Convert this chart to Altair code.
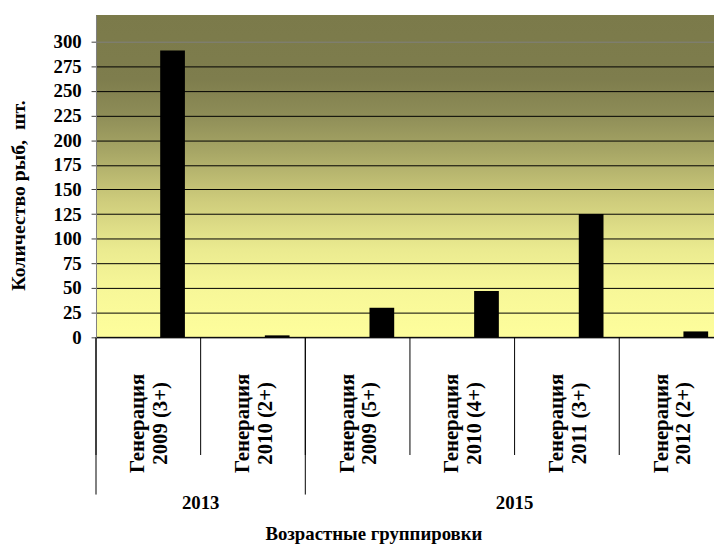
import altair as alt
import pandas as pd

# ---- data ----
years = ["2013", "2013", "2015", "2015", "2015", "2015"]
generations = ["2009 (3+)", "2010 (2+)", "2009 (5+)", "2010 (4+)", "2011 (3+)", "2012 (2+)"]
counts = [291, 2, 30, 47, 125, 6]
y_ticks = [0, 25, 50, 75, 100, 125, 150, 175, 200, 225, 250, 275, 300]
group_years = ["2013", "2015"]
group_first = [0, 2]  # first category of each year group
group_mid = [0, 3]    # category whose right edge is the group centre
x_title = ["Возрастные группировки"]

cats = ["Генерация|" + g for g in generations]
df = pd.DataFrame({"cat": cats, "count": counts, "year": years})
gdf = pd.DataFrame({
    "year": group_years,
    "cat": [cats[i] for i in group_first],
    "mid": [cats[i] for i in group_mid],
})
tdf = pd.DataFrame({"t": x_title})

FONT = "Liberation Serif"
W, H = 625, 326

x_scale = alt.Scale(domain=cats, range=[0, 635], paddingInner=0, paddingOuter=0)
y_scale = alt.Scale(domain=[0, 327], nice=False, zero=True)

gradient = alt.Gradient(
    gradient="linear",
    x1=0, x2=0, y1=0, y2=1,
    stops=[
        alt.GradientStop(color="#7b7a4a", offset=0),
        alt.GradientStop(color="#7e7d4d", offset=0.2),
        alt.GradientStop(color="#8c8b56", offset=0.3),
        alt.GradientStop(color="#a6a565", offset=0.42),
        alt.GradientStop(color="#cfcd7c", offset=0.58),
        alt.GradientStop(color="#ebeb90", offset=0.73),
        alt.GradientStop(color="#f7f798", offset=0.85),
        alt.GradientStop(color="#fefe9c", offset=1),
    ],
)

bg = alt.Chart(pd.DataFrame({"a": [0]})).mark_rect(fill=gradient, strokeWidth=0).encode(
    x=alt.value(0), x2=alt.value(640), y=alt.value(0), y2=alt.value(H)
)

bars = alt.Chart(df).mark_bar(color="black", width=25, xOffset=24.5).encode(
    x=alt.X("cat:N", scale=x_scale, sort=cats, axis=None),
    y=alt.Y(
        "count:Q",
        scale=y_scale,
        axis=alt.Axis(
            values=y_ticks,
            title="Количество рыб,\u00a0 шт.",
            titleFont=FONT, titleFontSize=20, titleFontWeight="bold", titleColor="black",
            titleAngle=270, titleX=-78, titleY=182, titleAlign="center", titleBaseline="middle",
            labelFont=FONT, labelFontSize=19, labelFontWeight="bold", labelColor="black",
            labelPadding=10, tickSize=5, tickColor="#404040",
            domainColor="#808080", domainWidth=1,
            grid=True,
            gridColor={"condition": {"test": "datum.value == 300", "value": "#808080"}, "value": "black"},
            gridWidth=1, gridOpacity=1, zindex=1,
        ),
    ),
)

baseline = alt.Chart(pd.DataFrame({"a": [0]})).mark_rule(color="black", strokeWidth=1).encode(
    x=alt.value(0), x2=alt.value(640), y=alt.value(H)
)

separators = alt.Chart(df).mark_rule(color="black", strokeWidth=1).encode(
    x=alt.X("cat:N", scale=x_scale, sort=cats, bandPosition=0, axis=None),
    y=alt.value(H),
    y2=alt.value(H + 119),
)

cat_labels = alt.Chart(df).mark_text(
    font=FONT, fontSize=21, fontWeight="bold", color="black",
    angle=270, align="center", baseline="middle", lineBreak="|", lineHeight=23,
    xOffset=-10,
).encode(
    x=alt.X("cat:N", scale=x_scale, sort=cats, bandPosition=0.5, axis=None),
    y=alt.value(H + 87),
    text="cat:N",
)

group_lines = alt.Chart(gdf).mark_rule(color="black", strokeWidth=1).encode(
    x=alt.X("cat:N", scale=x_scale, sort=cats, bandPosition=0, axis=None),
    y=alt.value(H),
    y2=alt.value(H + 159),
)

group_text = alt.Chart(gdf).mark_text(
    font=FONT, fontSize=19, fontWeight="bold", color="black", baseline="middle", align="center"
).encode(
    x=alt.X("mid:N", scale=x_scale, sort=cats, bandPosition=1, axis=None),
    y=alt.value(494),
    text="year:N",
)

title_text = alt.Chart(tdf).mark_text(
    font=FONT, fontSize=19, fontWeight="bold", color="black", baseline="alphabetic", align="center"
).encode(
    x=alt.value(281),
    y=alt.value(H + 205),
    text="t:N",
)

chart = alt.layer(
    bg, bars, baseline, separators, cat_labels, group_lines, group_text, title_text
).properties(
    width=W,
    height=H,
    autosize=alt.AutoSizeParams(type="none"),
    padding={"left": 89, "top": 4, "right": 0, "bottom": 212},
).configure_view(stroke=None).configure(background="white")

chart.save("out.html", embed_options={"renderer": "svg", "actions": False})
